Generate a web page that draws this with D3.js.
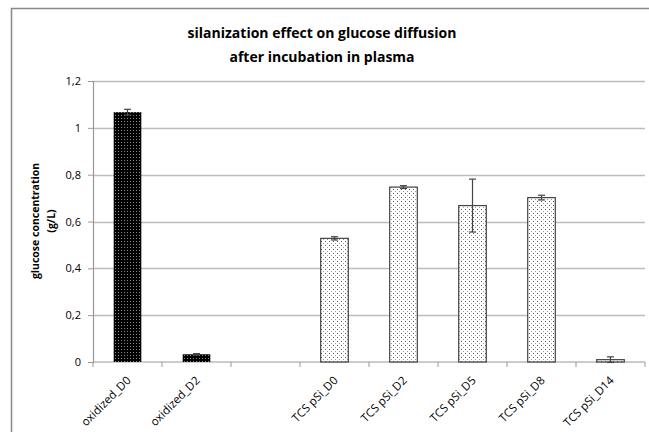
<!DOCTYPE html>
<html><head><meta charset="utf-8">
<script src="https://cdn.jsdelivr.net/npm/d3@7/dist/d3.min.js"></script>
<style>body{margin:0;background:#fff;position:relative}svg{display:block}text{font-family:"Open Sans","Liberation Sans",sans-serif;fill:#000}
.xl{position:absolute;width:120px;text-align:right;font-family:"Open Sans",sans-serif;font-size:11.5px;line-height:12px;white-space:nowrap;color:#000;transform-origin:100% 10.5px;transform:rotate(-45deg)}</style>
</head><body><svg id="c" width="649" height="432"></svg>
<script>
const categories = ["oxidized_D0","oxidized_D2","","TCS pSi_D0","TCS pSi_D2","TCS pSi_D5","TCS pSi_D8","TCS pSi_D14"];
const values = [1.067, 0.033, null, 0.528, 0.747, 0.668, 0.702, 0.010];
const errors = [0.012, 0.003, null, 0.007, 0.006, 0.113, 0.010, 0.012];
const groups = ["dark","dark",null,"light","light","light","light","light"];
const yTicks = [0,0.2,0.4,0.6,0.8,1,1.2];
const titleLines = ["silanization effect on glucose diffusion","after incubation in plasma"];
const yLabelLines = ["glucose concentration","(g/L)"];

(function(){
const svg = d3.select("#c");
const defs = svg.append("defs");
const pd = defs.append("pattern").attr("id","pdark").attr("width",3).attr("height",3).attr("patternUnits","userSpaceOnUse");
pd.append("rect").attr("width",3).attr("height",3).attr("fill","#000");
pd.append("rect").attr("x",1).attr("y",1).attr("width",1).attr("height",1).attr("fill","#8a8a8a");
const pl = defs.append("pattern").attr("id","plight").attr("width",4).attr("height",4).attr("patternUnits","userSpaceOnUse");
pl.append("rect").attr("width",4).attr("height",4).attr("fill","#fff");
pl.append("rect").attr("x",1).attr("y",1).attr("width",1).attr("height",1).attr("fill","#555");
pl.append("rect").attr("x",3).attr("y",3).attr("width",1).attr("height",1).attr("fill","#999");

svg.append("path").attr("d","M11.5,432 V8.5 H649").attr("fill","none").attr("stroke","#888").attr("stroke-width",1.5);

const mL = 93, mR = 645, mT = 81, mB = 362;
const x = d3.scaleBand().domain(d3.range(categories.length)).range([mL,mR]).paddingInner(0.6).paddingOuter(0.3);
const xb = d3.scaleBand().domain(d3.range(categories.length)).range([mL,mR]);
const y = d3.scaleLinear().domain([0,1.2]).range([mB,mT]);

svg.append("g").selectAll("line").data(yTicks.filter(d=>d>0)).join("line")
  .attr("x1",mL).attr("x2",mR).attr("y1",d=>Math.round(y(d))+0.5).attr("y2",d=>Math.round(y(d))+0.5)
  .attr("stroke","#bdbdbd").attr("stroke-width",1.5);

const ya = svg.append("g").attr("transform",`translate(${mL},0)`)
  .call(d3.axisLeft(y).tickValues(yTicks).tickSize(5).tickPadding(7).tickFormat(d=>String(d).replace(".",",")));
ya.select(".domain").attr("stroke","#999").attr("stroke-width",1.2);
ya.selectAll(".tick line").attr("stroke","#999");
ya.selectAll("text").attr("font-size",11).style("font-family","'Open Sans',sans-serif").attr("fill","#000");

const xa = svg.append("g").attr("transform",`translate(0,${mB})`)
  .call(d3.axisBottom(xb).tickSize(0).tickFormat(()=>""));
xa.selectAll("text").remove();
xa.select(".domain").attr("stroke","#999").attr("stroke-width",1.2).attr("d",`M${mL},0H${mR}`);
svg.append("g").selectAll("line").data(d3.range(categories.length+1)).join("line")
  .attr("x1",i=>mL+i*xb.step()).attr("x2",i=>mL+i*xb.step()).attr("y1",mB).attr("y2",mB+5)
  .attr("stroke","#999");

// rotated category labels as HTML elements
d3.select("body").selectAll("div.xl").data(categories.map((c,i)=>({c,i})).filter(d=>d.c)).join("div")
  .attr("class","xl")
  .style("left",d=>(xb(d.i)+xb.bandwidth()/2+4-120)+"px")
  .style("top",d=>(mB+19-10.5)+"px")
  .text(d=>d.c);

const data = categories.map((c,i)=>({i,v:values[i],e:errors[i],g:groups[i]})).filter(d=>d.v!==null);
svg.append("g").selectAll("rect").data(data).join("rect")
  .attr("x",d=>x(d.i)).attr("width",x.bandwidth())
  .attr("y",d=>y(d.v)).attr("height",d=>mB-y(d.v))
  .attr("fill",d=>d.g==="dark"?"url(#pdark)":"url(#plight)")
  .attr("stroke",d=>d.g==="dark"?"none":"#444").attr("stroke-width",1.2);

const eg = svg.append("g").attr("stroke","#444").attr("stroke-width",1.2);
data.forEach(d=>{
  const cx = x(d.i)+x.bandwidth()/2;
  eg.append("line").attr("x1",cx).attr("x2",cx).attr("y1",y(d.v+d.e)).attr("y2",y(d.v-d.e));
  eg.append("line").attr("x1",cx-3.5).attr("x2",cx+3.5).attr("y1",y(d.v+d.e)).attr("y2",y(d.v+d.e));
  eg.append("line").attr("x1",cx-3.5).attr("x2",cx+3.5).attr("y1",y(d.v-d.e)).attr("y2",y(d.v-d.e));
});

svg.append("g").selectAll("text").data(titleLines).join("text")
  .attr("x",322).attr("y",(d,i)=>38+i*24).attr("text-anchor","middle")
  .style("font-size","14px").attr("font-weight","bold").text(d=>d);

svg.append("g").selectAll("text").data(yLabelLines).join("text")
  .attr("transform",(d,i)=>`translate(${39+i*16},221) rotate(-90)`).attr("text-anchor","middle")
  .style("font-size","10.5px").attr("font-weight","bold").text(d=>d);
})();
</script></body></html>
